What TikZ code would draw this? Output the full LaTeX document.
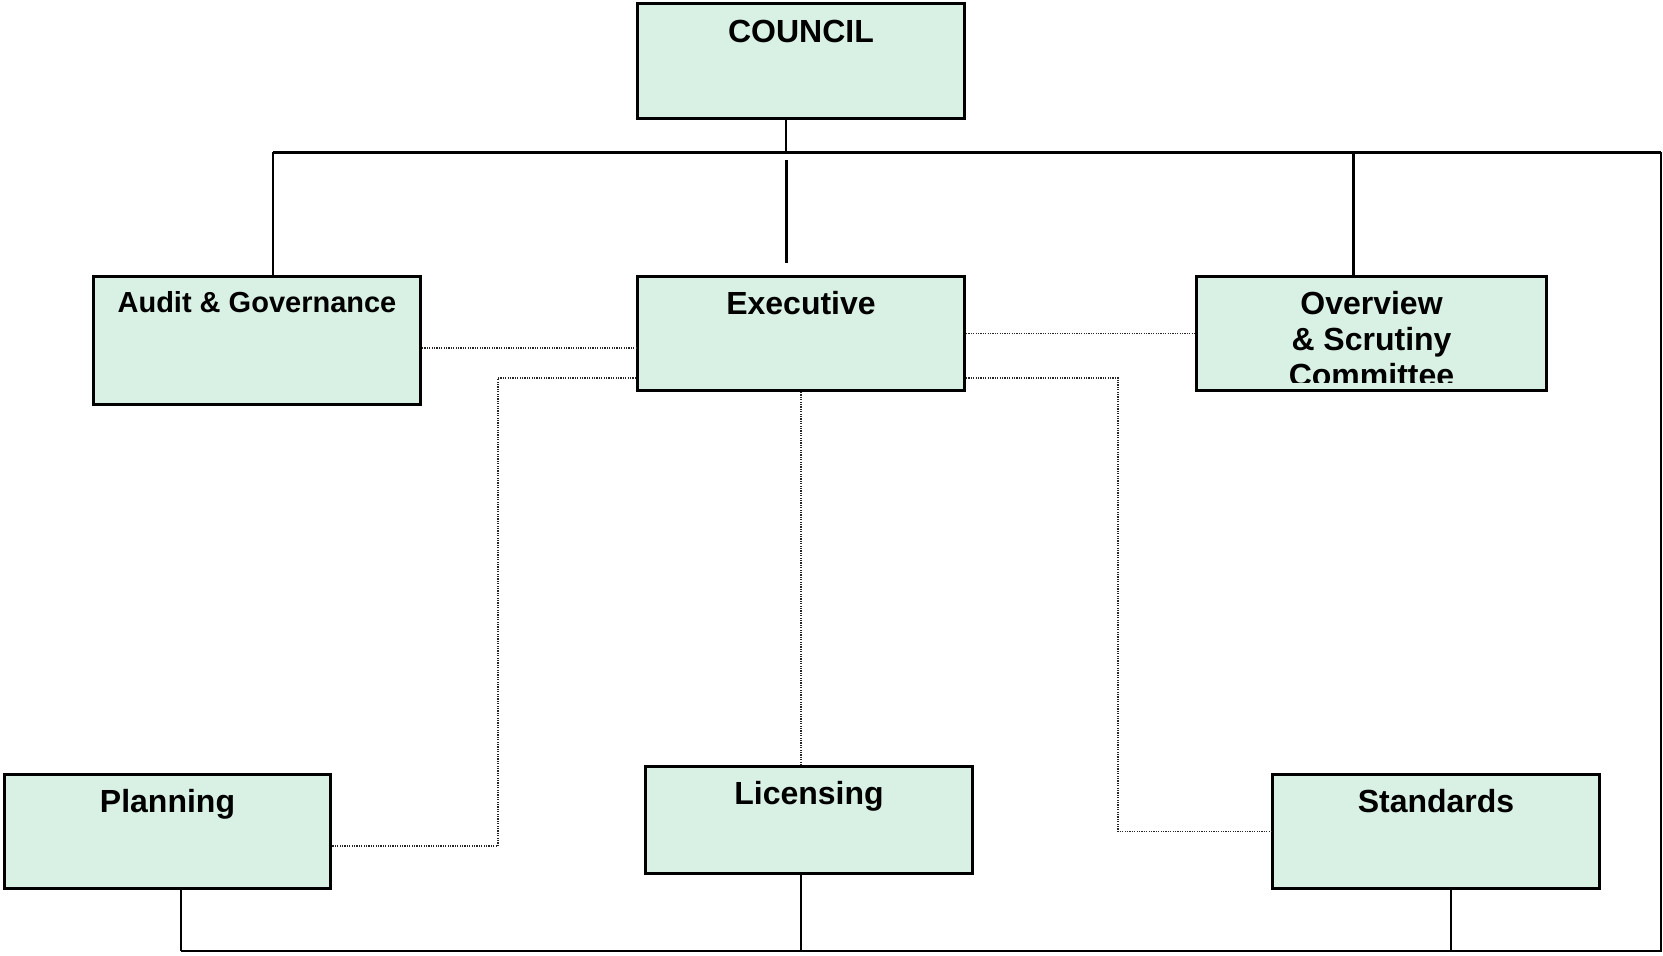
\documentclass[tikz,border=0pt]{standalone}
\usepackage{fontspec}
\setmainfont{Liberation Sans}
\usetikzlibrary{positioning, calc}
\definecolor{mint}{RGB}{217,241,229}

\begin{document}
\begin{tikzpicture}[
        x=0.5pt, y=-0.5pt,
        drop/.store in=\unitdrop, drop=19pt,
        unit/.style={draw, rectangle, line width=1.5pt, fill=mint, inner sep=0pt, minimum width=163.5pt, minimum height=57pt,
            path picture={
                \clip ([yshift=4.25pt]path picture bounding box.south west) rectangle (path picture bounding box.north east);
                \node[unittext] at ([yshift=-\unitdrop]path picture bounding box.north) {#1};}},
        unittext/.style={anchor=base, align=center, draw=none, fill=none, inner sep=0pt, minimum width=0pt, minimum height=0pt,
            font=\bfseries\fontsize{16}{18}\selectfont},
        bus/.style={draw, line width=1.5pt},
        link/.style={draw, line width=0.75pt},
        tie/.style={draw, black!85, line width=0.6pt, dash pattern=on 0.6pt off 0.6pt}
    ]
    \useasboundingbox (0,0) rectangle (1663,955);

    \node[unit=COUNCIL, drop=19.5pt, minimum height=57.5pt] (council) at (801,61) {};
    \node[unit={\fontsize{14.5}{17}\selectfont Audit \& Governance}, drop=18pt, minimum height=64pt] (audit) at (257,340.5) {};
    \node[unit=Executive] (exec) at (801,333.5) {};
    \node[unit={Overview\\\& Scrutiny\\Committee}, drop=55pt, minimum width=175pt] (overview) at (1371.5,333.5) {};
    \node[unit=Planning, minimum width=163pt] (planning) at (167.5,831.5) {};
    \node[unit=Licensing, minimum height=53.5pt] (licensing) at (809,820) {};
    \node[unit=Standards] (standards) at (1436,831.5) {};

    \coordinate (busL) at (273,152);
    \coordinate (busR) at (1661,152);
    \coordinate (cdrop) at (786,152);
    \coordinate (odrop) at (1353,152);
    \coordinate (baseR) at (1661,951);
    \coordinate (baseL) at (181,951);
    \coordinate (sdrop) at (1451,951);
    \coordinate (pbend) at (498,378);
    \coordinate (sbend) at (1118,378);

    \draw[bus] (busL) -- (busR);
    \draw[link] (council.south -| cdrop) -- (cdrop);
    \draw[link] (busL) -- (audit.north -| busL);
    \draw[bus] ([yshift=-4pt]cdrop) -- ([yshift=6pt]exec.north -| cdrop);
    \draw[bus] (odrop) -- (overview.north -| odrop);
    \draw[link] (busR) -- (baseR) -- (baseL);
    \draw[link] (planning.south -| baseL) -- (baseL);
    \draw[link] (licensing.south -| exec) -- (exec |- baseL);
    \draw[link] (standards.south -| sdrop) -- (sdrop);

    \draw[tie] ([yshift=-3.75pt]audit.east) -- ([yshift=-3.75pt]audit.east -| exec.west);
    \draw[tie] (exec.west |- pbend) -- (pbend) |- ([yshift=-7.25pt]planning.east);
    \draw[tie] (exec.south) -- (licensing.north -| exec.south);
    \draw[tie] (exec.east) -- (overview.west);
    \draw[tie] (exec.east |- sbend) -- (sbend) |- (standards.west);

\end{tikzpicture}
\end{document}
